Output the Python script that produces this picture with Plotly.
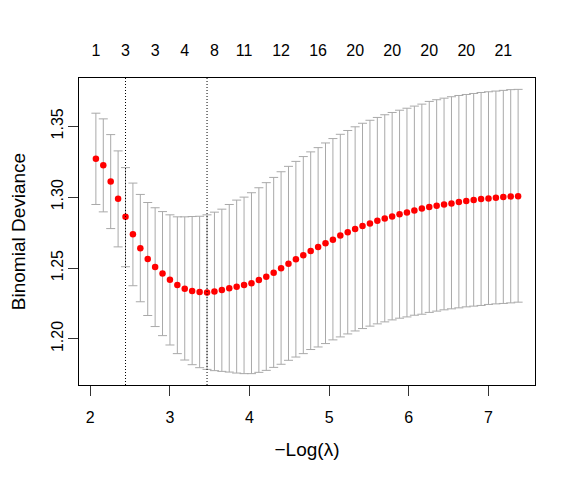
import plotly.graph_objects as go

# cross-validation curve (glmnet style)
log_lambda = [2.070, 2.163, 2.256, 2.349, 2.442, 2.535, 2.628, 2.721, 2.814, 2.907,
              3.000, 3.093, 3.186, 3.279, 3.373, 3.466, 3.559, 3.652, 3.745, 3.838,
              3.931, 4.024, 4.117, 4.210, 4.303, 4.396, 4.489, 4.582, 4.675, 4.768,
              4.861, 4.954, 5.047, 5.140, 5.233, 5.326, 5.419, 5.512, 5.605, 5.698,
              5.791, 5.884, 5.977, 6.070, 6.164, 6.257, 6.350, 6.443, 6.536, 6.629,
              6.722, 6.815, 6.908, 7.001, 7.094, 7.187, 7.280, 7.373]

cvm = [1.3271, 1.3224, 1.3111, 1.2988, 1.2861, 1.2738, 1.2639, 1.2564, 1.2507, 1.2462,
       1.2417, 1.2380, 1.2354, 1.2337, 1.2330, 1.2328, 1.2335, 1.2344, 1.2358, 1.2368,
       1.2380, 1.2392, 1.2415, 1.2438, 1.2467, 1.2498, 1.2530, 1.2562, 1.2590, 1.2620,
       1.2649, 1.2675, 1.2700, 1.2729, 1.2753, 1.2776, 1.2797, 1.2814, 1.2833, 1.2849,
       1.2863, 1.2880, 1.2891, 1.2906, 1.2920, 1.2930, 1.2939, 1.2948, 1.2955, 1.2965,
       1.2972, 1.2979, 1.2986, 1.2990, 1.2995, 1.3000, 1.3005, 1.3007]

cvup = [1.3592, 1.3552, 1.3441, 1.3326, 1.3208, 1.3099, 1.3019, 1.2962, 1.2925, 1.2898,
        1.2875, 1.2861, 1.2861, 1.2863, 1.2865, 1.2875, 1.2894, 1.2915, 1.2948, 1.2979,
        1.3000, 1.3031, 1.3066, 1.3102, 1.3139, 1.3179, 1.3217, 1.3252, 1.3286, 1.3319,
        1.3349, 1.3382, 1.3413, 1.3443, 1.3470, 1.3496, 1.3521, 1.3542, 1.3562, 1.3581,
        1.3597, 1.3613, 1.3627, 1.3642, 1.3656, 1.3675, 1.3687, 1.3698, 1.3708, 1.3717,
        1.3724, 1.3731, 1.3738, 1.3743, 1.3748, 1.3753, 1.3758, 1.3760]

cvlo = [1.2948, 1.2896, 1.2778, 1.2649, 1.2509, 1.2375, 1.2262, 1.2165, 1.2087, 1.2023,
        1.1957, 1.1896, 1.1851, 1.1818, 1.1797, 1.1785, 1.1776, 1.1771, 1.1766, 1.1759,
        1.1755, 1.1755, 1.1764, 1.1778, 1.1799, 1.1821, 1.1849, 1.1872, 1.1896, 1.1925,
        1.1943, 1.1967, 1.1993, 1.2014, 1.2035, 1.2056, 1.2073, 1.2090, 1.2106, 1.2120,
        1.2134, 1.2146, 1.2155, 1.2167, 1.2174, 1.2187, 1.2196, 1.2205, 1.2212, 1.2219,
        1.2226, 1.2231, 1.2236, 1.2243, 1.2247, 1.2250, 1.2254, 1.2259]

# number of nonzero coefficients shown on the top axis
nz_idx = [0, 4, 8, 12, 16, 20, 25, 30, 35, 40, 45, 50, 55]
nz_labels = ["1", "3", "3", "4", "8", "11", "12", "16", "20", "20", "20", "20", "21"]

lambda_1se_idx = 4
lambda_min_idx = 15

x_ticks = [2, 3, 4, 5, 6, 7]
y_ticks = [1.20, 1.25, 1.30, 1.35]

FONT = "Liberation Sans, Arial, Helvetica, sans-serif"

# R-like 4% padding of the axis ranges
xspan = max(log_lambda) - min(log_lambda)
xr = [min(log_lambda) - 0.04 * xspan, max(log_lambda) + 0.04 * xspan]
yspan = max(cvup) - min(cvlo)
yr = [min(cvlo) - 0.04 * yspan, max(cvup) + 0.04 * yspan]

err_plus = [u - m for u, m in zip(cvup, cvm)]
err_minus = [m - l for m, l in zip(cvm, cvlo)]

fig = go.Figure()

fig.add_trace(go.Scatter(
    x=log_lambda, y=cvm, mode="markers",
    marker=dict(color="red", size=6.5, line=dict(width=0)),
    error_y=dict(type="data", symmetric=False, array=err_plus, arrayminus=err_minus,
                 color="darkgrey", thickness=1, width=4.5),
    showlegend=False, hoverinfo="x+y"))

# invisible trace so the top axis is drawn
fig.add_trace(go.Scatter(
    x=[log_lambda[i] for i in nz_idx], y=[cvm[i] for i in nz_idx],
    xaxis="x2", mode="markers", marker=dict(opacity=0),
    showlegend=False, hoverinfo="skip"))

for i in (lambda_1se_idx, lambda_min_idx):
    fig.add_vline(x=log_lambda[i], line=dict(color="black", width=1, dash="1px,2px"))

# the page body puts 8px around the figure, so it is drawn 8px smaller
fig.update_layout(
    width=567, height=475,
    margin=dict(l=71, r=40, t=70, b=98),
    paper_bgcolor="white", plot_bgcolor="white",
    font=dict(family=FONT, size=16, color="black"),
    xaxis=dict(
        range=xr, tickvals=x_ticks, ticks="outside", ticklen=10, tickcolor="#333",
        showline=True, linecolor="black", linewidth=1, mirror=True, automargin=False,
        showgrid=False, zeroline=False, ticklabelstandoff=8,
        title=dict(text="\u2212Log(\u03bb)", standoff=17)),
    xaxis2=dict(
        range=xr, overlaying="x", side="top", tickvals=[log_lambda[i] for i in nz_idx],
        ticktext=nz_labels, ticks="", showline=False, showgrid=False, zeroline=False,
        automargin=False, ticklabelstandoff=18),
    yaxis=dict(
        range=yr, tickvals=y_ticks, ticktext=["1.20", "1.25", "1.30", "1.35"],
        ticks="outside", ticklen=10, tickcolor="#333", tickangle=-90,
        showline=True, linecolor="black", linewidth=1, mirror=True, automargin=False,
        showgrid=False, zeroline=False, ticklabelstandoff=-1,
        title=dict(text="Binomial Deviance", standoff=28)),
)

fig.write_html("out.html")
